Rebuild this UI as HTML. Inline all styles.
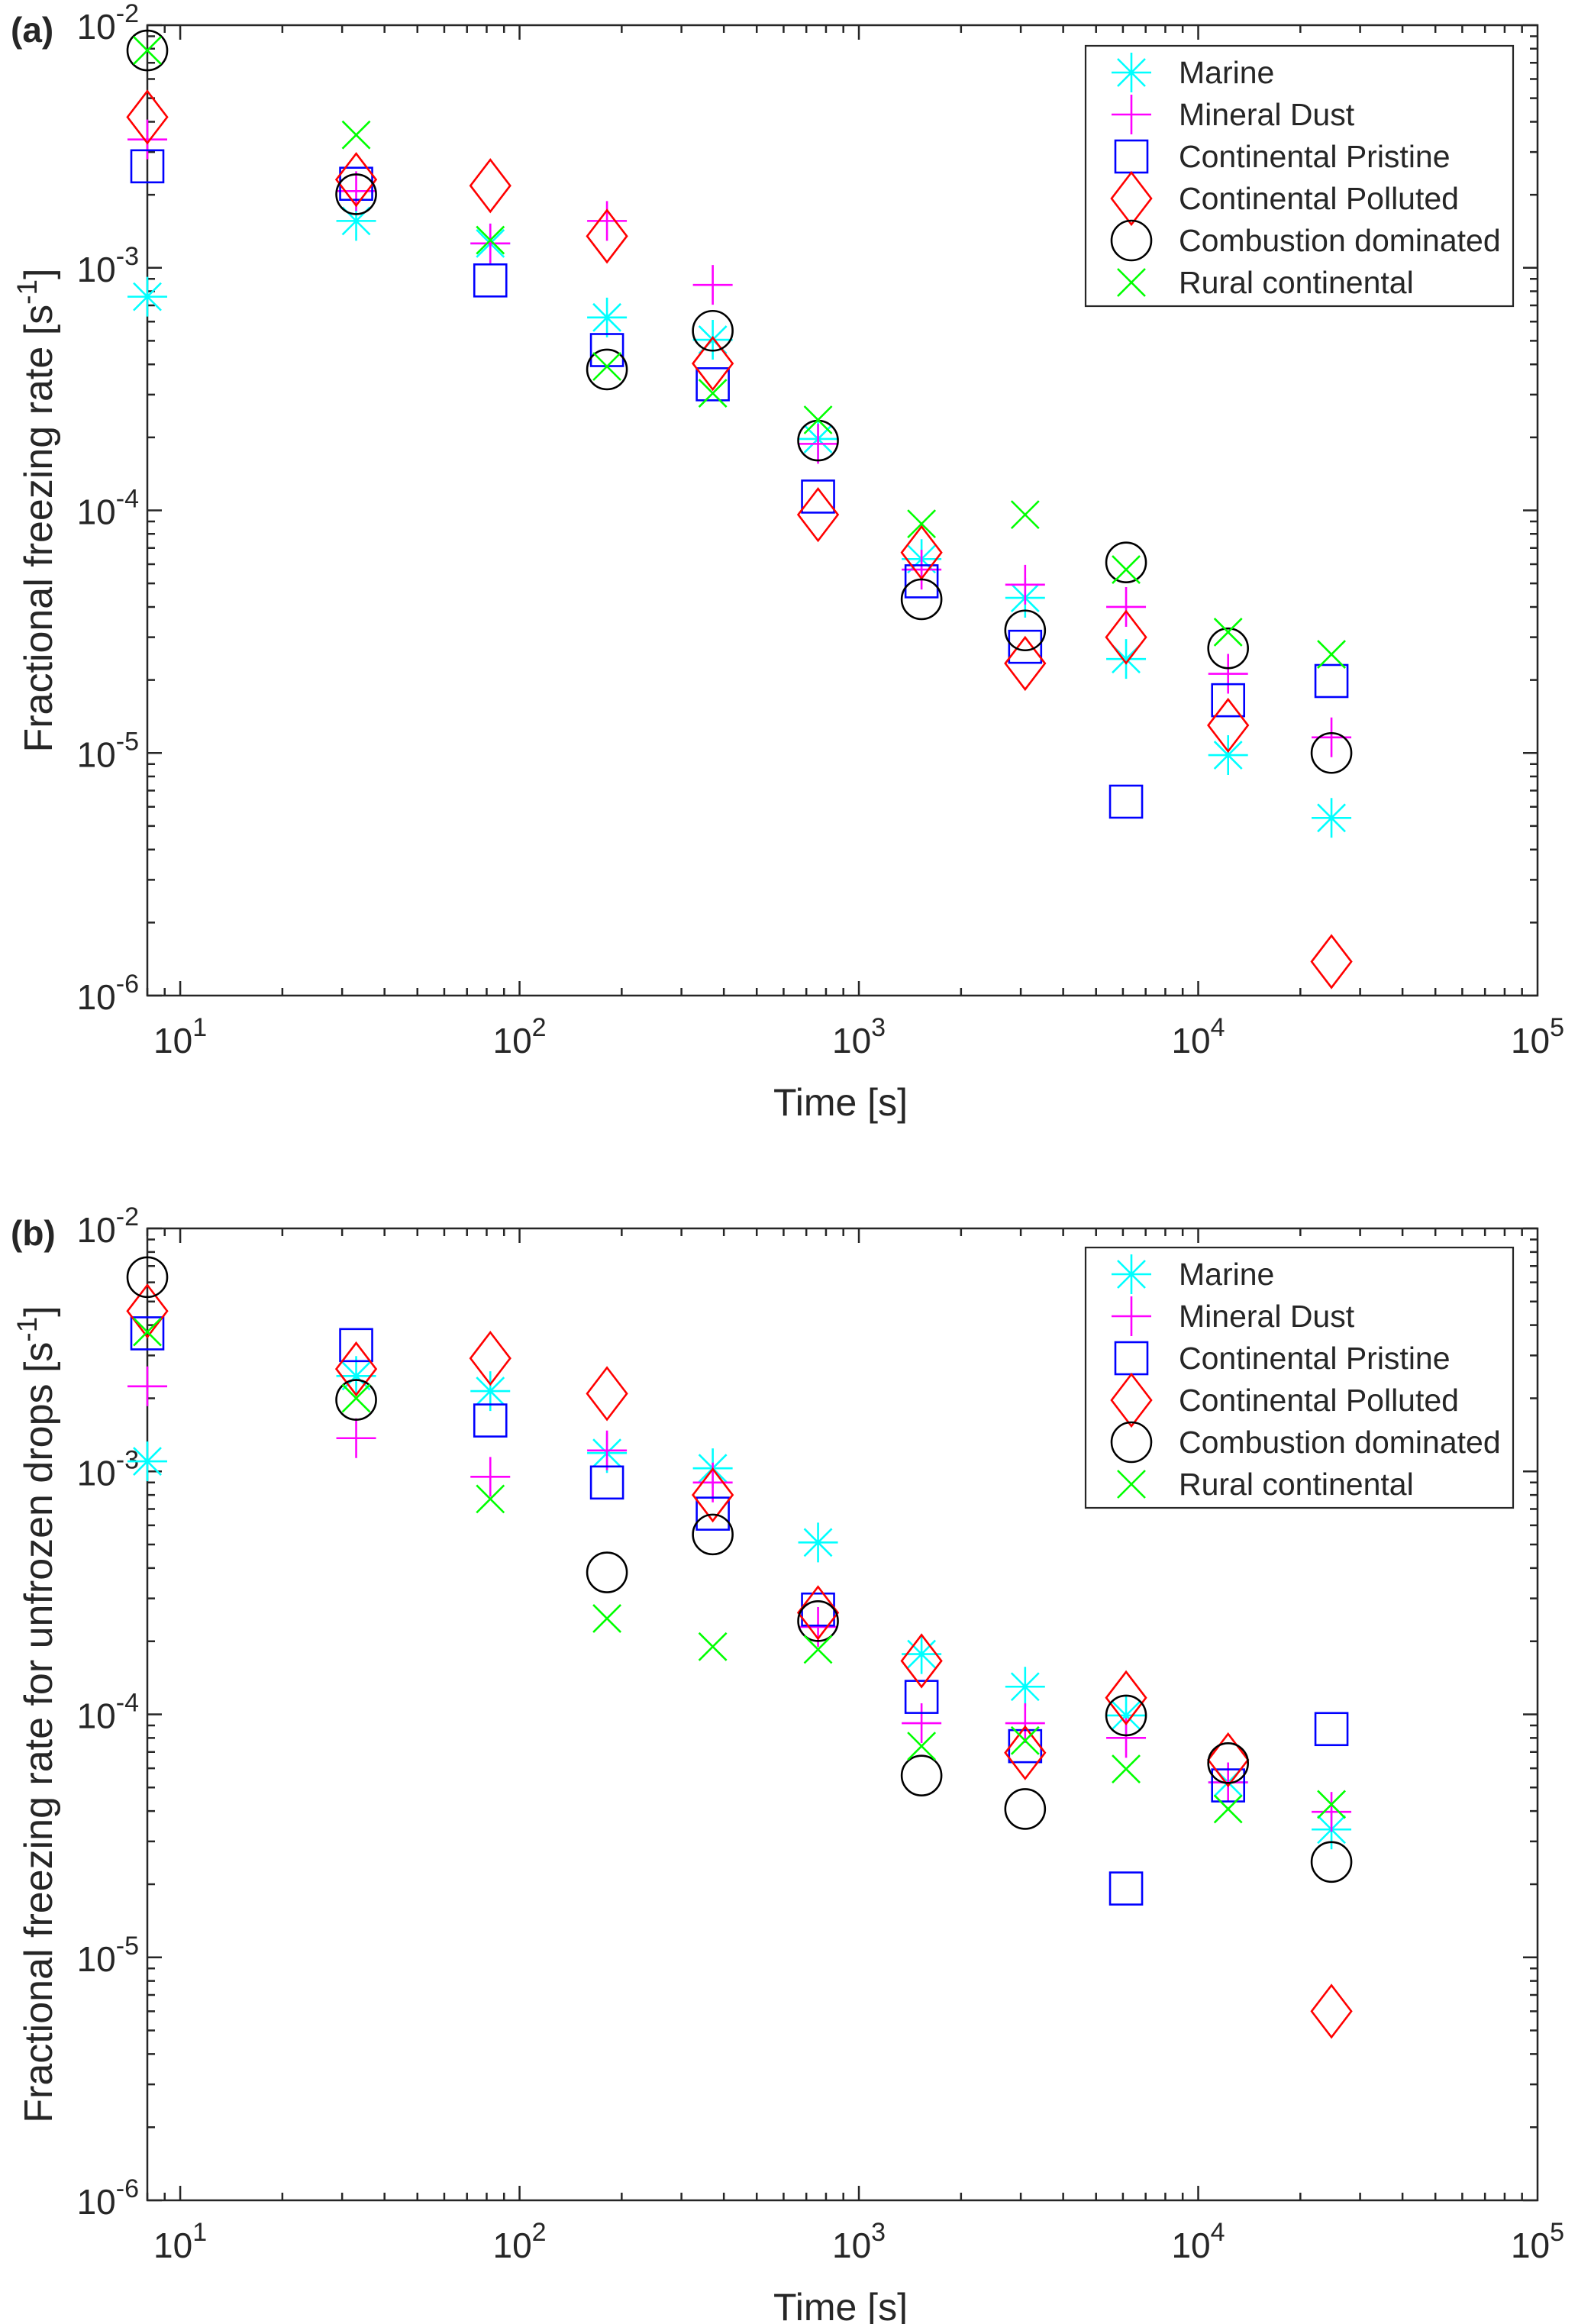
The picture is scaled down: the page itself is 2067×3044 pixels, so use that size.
<!DOCTYPE html>
<html><head><meta charset="utf-8"><style>
html,body{margin:0;padding:0;background:#fff;}
svg{display:block;}
text{font-family:"Liberation Sans",Arial,sans-serif;fill:#262626;}
</style></head>
<body>
<svg id="chart" width="2067" height="3044" viewBox="0 0 2067 3044" xmlns="http://www.w3.org/2000/svg"></svg>
<script>
// ---- data ----
const times = [8, 33, 82, 181, 371, 758, 1530, 3090, 6130, 12250, 24700];
const seriesNames = ["Marine", "Mineral Dust", "Continental Pristine", "Continental Polluted", "Combustion dominated", "Rural continental"];
// Panel (a): Fractional freezing rate
const aMarine   = [7.6e-4, 1.56e-3, 1.26e-3, 6.24e-4, 5.05e-4, 1.97e-4, 6.3e-5, 4.36e-5, 2.44e-5, 9.8e-6, 5.4e-6];
const aDust     = [3.38e-3, 2.07e-3, 1.26e-3, 1.56e-3, 8.5e-4, 1.88e-4, 5.7e-5, 4.94e-5, 4.0e-5, 2.12e-5, 1.16e-5];
const aPristine = [2.62e-3, 2.22e-3, 8.87e-4, 4.58e-4, 3.31e-4, 1.14e-4, 5.1e-5, 2.74e-5, 6.3e-6, 1.65e-5, 1.98e-5];
const aPolluted = [4.18e-3, 2.31e-3, 2.18e-3, 1.35e-3, 4.03e-4, 9.6e-5, 6.7e-5, 2.34e-5, 3.0e-5, 1.30e-5, 1.38e-6];
const aCombust  = [7.87e-3, 2.01e-3, null, 3.81e-4, 5.5e-4, 1.94e-4, 4.3e-5, 3.2e-5, 6.1e-5, 2.7e-5, 1.0e-5];
const aRural    = [7.87e-3, 3.53e-3, 1.30e-3, 3.92e-4, 3.04e-4, 2.36e-4, 8.8e-5, 9.6e-5, 5.7e-5, 3.15e-5, 2.55e-5];
// Panel (b): Fractional freezing rate for unfrozen drops
const bMarine   = [1.10e-3, 2.47e-3, 2.14e-3, 1.19e-3, 1.03e-3, 5.1e-4, 1.77e-4, 1.30e-4, 9.9e-5, 5.25e-5, 3.36e-5];
const bDust     = [2.24e-3, 1.37e-3, 9.5e-4, 1.22e-3, 9.0e-4, 2.29e-4, 9.2e-5, 9.2e-5, 8.0e-5, 5.25e-5, 3.97e-5];
const bPristine = [3.7e-3, 3.31e-3, 1.62e-3, 9.0e-4, 6.7e-4, 2.7e-4, 1.18e-4, 7.4e-5, 1.92e-5, 5.1e-5, 8.7e-5];
const bPolluted = [4.57e-3, 2.64e-3, 2.92e-3, 2.09e-3, 8.0e-4, 2.62e-4, 1.66e-4, 6.95e-5, 1.17e-4, 6.5e-5, 6.0e-6];
const bCombust  = [6.3e-3, 1.97e-3, null, 3.84e-4, 5.5e-4, 2.42e-4, 5.6e-5, 4.08e-5, 9.9e-5, 6.3e-5, 2.47e-5];
const bRural    = [3.75e-3, 2.0e-3, 7.7e-4, 2.48e-4, 1.9e-4, 1.85e-4, 7.4e-5, 7.8e-5, 5.96e-5, 4.08e-5, 4.26e-5];
const xTickExps = [1, 2, 3, 4, 5];
const yTickExps = [-2, -3, -4, -5, -6];

// ---- drawing ----
const NS = "http://www.w3.org/2000/svg";
const svg = document.getElementById("chart");
function mk(tag, attrs, parent) {
  const e = document.createElementNS(NS, tag);
  for (const k in attrs) e.setAttribute(k, attrs[k]);
  (parent || svg).appendChild(e);
  return e;
}
const colors = ["#00ffff", "#ff00ff", "#0000ff", "#ff0000", "#000000", "#00ff00"];
const shapes = ["star", "plus", "square", "diamond", "circle", "x"];
const L = 193, R = 2014, XMIN = Math.log10(8), XMAX = 5;
function xs(t) { return L + (Math.log10(t) - XMIN) / (XMAX - XMIN) * (R - L); }

function marker(g, shape, cx, cy, col) {
  const st = { stroke: col, "stroke-width": 2.6, fill: "none" };
  let el;
  if (shape === "circle") el = mk("circle", Object.assign({ cx: cx, cy: cy, r: 26 }, st), g);
  else if (shape === "square") el = mk("rect", Object.assign({ x: cx - 21, y: cy - 21, width: 42, height: 42 }, st), g);
  else if (shape === "diamond") el = mk("polygon", Object.assign({ points: `${cx},${cy-34} ${cx+26},${cy} ${cx},${cy+34} ${cx-26},${cy}` }, st), g);
  else if (shape === "plus") el = mk("path", Object.assign({ d: `M${cx-26},${cy}H${cx+26}M${cx},${cy-26}V${cy+26}` }, st), g);
  else if (shape === "x") el = mk("path", Object.assign({ d: `M${cx-18},${cy-18}L${cx+18},${cy+18}M${cx-18},${cy+18}L${cx+18},${cy-18}` }, st), g);
  else el = mk("path", Object.assign({ d: `M${cx-26},${cy}H${cx+26}M${cx},${cy-26}V${cy+26}M${cx-18},${cy-18}L${cx+18},${cy+18}M${cx-18},${cy+18}L${cx+18},${cy-18}` }, st), g);
  return el;
}

function panel(tag, T, B, ylabel, series, legTop) {
  const YMIN = -6, YMAX = -2;
  const ys = v => B - (Math.log10(v) - YMIN) / (YMAX - YMIN) * (B - T);
  const g = mk("g", {});
  
  
  const box = mk("rect", { x: L, y: T, width: R - L, height: B - T, fill: "none", stroke: "#262626", "stroke-width": 2.5 }, g);
  
  
  let d = "";
  for (let e = 0; e <= 4; e++) for (let m = 1; m <= 9; m++) {
    const v = m * Math.pow(10, e);
    if (v < 8 || v > 1e5) continue;
    const x = xs(v), len = m === 1 ? 19 : 10;
    d += `M${x},${B}V${B-len}M${x},${T}V${T+len}`;
  }
  for (let e = YMIN; e <= YMAX; e++) for (let m = 1; m <= 9; m++) {
    if (e === YMAX && m > 1) continue;
    const y = ys(m * Math.pow(10, e)), len = m === 1 ? 19 : 10;
    d += `M${L},${y}H${L+len}M${R},${y}H${R-len}`;
  }
  const ticks = mk("path", { d: d, stroke: "#262626", "stroke-width": 2.5 }, g);
  
  
  xTickExps.forEach(e => {
    const t = mk("text", { x: xs(Math.pow(10, e)), y: B + 75, "font-size": 46, "text-anchor": "middle" }, g);
    
    
    t.innerHTML = `10<tspan dy="-22" font-size="34">${e}</tspan>`;
  });
  yTickExps.forEach(e => {
    const t = mk("text", { x: 182, y: ys(Math.pow(10, e)) + 18, "font-size": 46, "text-anchor": "end" }, g);
    
    
    t.innerHTML = `10<tspan dy="-22" font-size="34">${e}</tspan>`;
  });
  const xl = mk("text", { x: 1101, y: B + 157, "font-size": 50, "text-anchor": "middle" }, g);
  
  
  xl.textContent = "Time [s]";
  const yc = (T + B) / 2;
  const yl = mk("text", { x: 0, y: 0, "font-size": 52, "text-anchor": "middle", transform: `translate(68,${yc}) rotate(-90)` }, g);
  
  
  yl.innerHTML = ylabel + ` [s<tspan dy="-20" font-size="37">-1</tspan><tspan dy="20">]</tspan>`;
  const pl = mk("text", { x: 14, y: T + 22, "font-size": 46, "font-weight": "bold", fill: "#000" }, g);
  
  
  pl.textContent = "(" + tag + ")";
  series.forEach((vals, si) => {
    const sg = mk("g", {}, g);
    
    
    vals.forEach((v, i) => {
      if (v == null) return;
      const m = marker(sg, shapes[si], xs(times[i]), ys(v), colors[si]);
      
      
    });
  });
  const lg = mk("g", {}, g);
  
  
  mk("rect", { x: 1422, y: legTop, width: 560, height: 341, fill: "#fff", stroke: "#262626", "stroke-width": 2.2 }, lg);
  seriesNames.forEach((n, i) => {
    const cy = legTop + 35 + i * 55;
    const ent = mk("g", {}, lg);
    
    
    marker(ent, shapes[i], 1482, cy, colors[i]);
    const t = mk("text", { x: 1544, y: cy + 14, "font-size": 41, fill: "#000" }, ent);
    t.textContent = n;
  });
}

panel("a", 33, 1304, "Fractional freezing rate",
  [aMarine, aDust, aPristine, aPolluted, aCombust, aRural], 60);
panel("b", 1609, 2882, "Fractional freezing rate for unfrozen drops",
  [bMarine, bDust, bPristine, bPolluted, bCombust, bRural], 1634);
</script>
</body></html>
